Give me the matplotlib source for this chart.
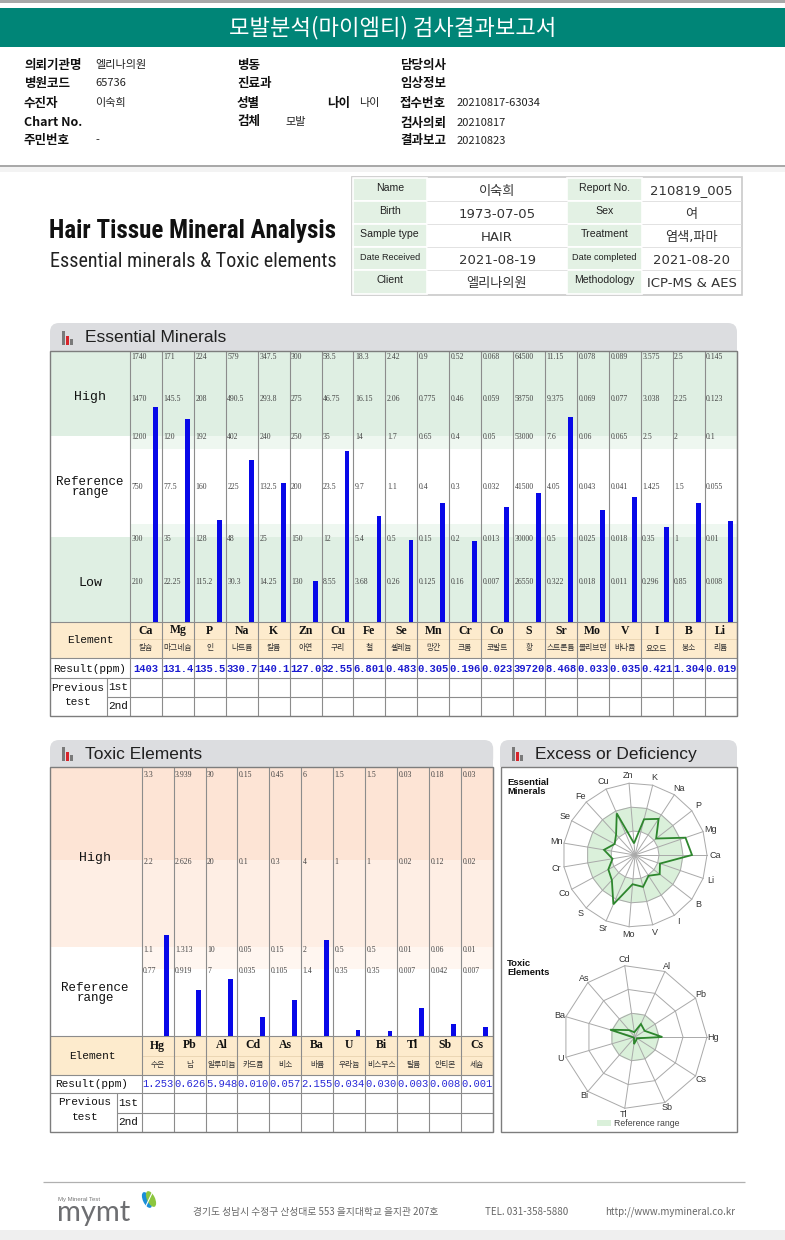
#!/usr/bin/env python3
"""Hair tissue mineral analysis report (mymt) rebuilt with matplotlib."""

import numpy as np
import matplotlib
matplotlib.use("Agg")
import matplotlib.pyplot as plt
from matplotlib import font_manager
from matplotlib.patches import Rectangle, FancyBboxPatch, Polygon, Circle, Ellipse


def has_font(name):
    try:
        font_manager.findfont(name, fallback_to_default=False)
        return True
    except Exception:
        return False


def pick_font(names):
    for n in names:
        if has_font(n):
            return n
    return None


KR = ["Noto Sans CJK KR", "DejaVu Sans"]
SANS = ["Liberation Sans", "DejaVu Sans"]
COND = pick_font(["Roboto Condensed", "Liberation Sans Narrow", "Open Sans Condensed",
                  "DejaVu Sans Condensed"])
NARROW = [COND, "DejaVu Sans"] if COND else SANS
MONO = ["Liberation Mono", "DejaVu Sans Mono"]
SERIF = ["Liberation Serif", "DejaVu Serif"]
VAL = ["DejaVu Sans", "Noto Sans CJK KR"]
plt.rcParams["font.family"] = KR

# ---------------- data ----------------
info_left = [("의뢰기관명", "엘리나의원"), ("병원코드", "65736"), ("수진자", "이숙희"),
             ("Chart No.", ""), ("주민번호", "-")]
info_mid = [("병동", ""), ("진료과", ""), ("성별", ""), ("검체", "모발")]
info_right = [("담당의사", ""), ("임상정보", ""), ("접수번호", "20210817-63034"),
              ("검사의뢰", "20210817"), ("결과보고", "20210823")]

card_labels_1 = ["Name", "Birth", "Sample type", "Date Received", "Client"]
card_values_1 = ["이숙희", "1973-07-05", "HAIR", "2021-08-19", "엘리나의원"]
card_labels_2 = ["Report No.", "Sex", "Treatment", "Date completed", "Methodology"]
card_values_2 = ["210819_005", "여", "염색,파마", "2021-08-20", "ICP-MS & AES"]

ess_syms = ["Ca", "Mg", "P", "Na", "K", "Zn", "Cu", "Fe", "Se", "Mn",
            "Cr", "Co", "S", "Sr", "Mo", "V", "I", "B", "Li"]
ess_kor = ["칼슘", "마그네슘", "인", "나트륨", "칼륨", "아연", "구리", "철", "셀레늄", "망간",
           "크롬", "코발트", "황", "스트론튬", "몰리브덴", "바나듐", "요오드", "붕소", "리튬"]
ess_results = ["1403", "131.4", "135.5", "330.7", "140.1", "127.0", "32.55", "6.801", "0.483",
               "0.305", "0.196", "0.023", "39720", "8.468", "0.033", "0.035", "0.421", "1.304",
               "0.019"]
# column scale labels, top to bottom
ess_top = ["1740", "171", "224", "579", "347.5", "300", "58.5", "18.3", "2.42", "0.9",
           "0.52", "0.068", "64500", "11.15", "0.078", "0.089", "3.575", "2.5", "0.145"]
ess_highmid = ["1470", "145.5", "208", "490.5", "293.8", "275", "46.75", "16.15", "2.06", "0.775",
               "0.46", "0.059", "58750", "9.375", "0.069", "0.077", "3.038", "2.25", "0.123"]
ess_high = ["1200", "120", "192", "402", "240", "250", "35", "14", "1.7", "0.65",
            "0.4", "0.05", "53000", "7.6", "0.06", "0.065", "2.5", "2", "0.1"]
ess_mid = ["750", "77.5", "160", "225", "132.5", "200", "23.5", "9.7", "1.1", "0.4",
           "0.3", "0.032", "41500", "4.05", "0.043", "0.041", "1.425", "1.5", "0.055"]
ess_low = ["300", "35", "128", "48", "25", "150", "12", "5.4", "0.5", "0.15",
           "0.2", "0.013", "30000", "0.5", "0.025", "0.018", "0.35", "1", "0.01"]
ess_lowmid = ["210", "22.25", "115.2", "30.3", "14.25", "130", "8.55", "3.68", "0.26", "0.125",
              "0.16", "0.007", "26550", "0.322", "0.018", "0.011", "0.296", "0.85", "0.008"]

tox_syms = ["Hg", "Pb", "Al", "Cd", "As", "Ba", "U", "Bi", "Tl", "Sb", "Cs"]
tox_kor = ["수은", "납", "알루미늄", "카드뮴", "비소", "바륨", "우라늄", "비스무스", "탈륨", "안티몬", "세슘"]
tox_results = ["1.253", "0.626", "5.948", "0.010", "0.057", "2.155", "0.034", "0.030",
               "0.003", "0.008", "0.001"]
tox_x3 = ["3.3", "3.939", "30", "0.15", "0.45", "6", "1.5", "1.5", "0.03", "0.18", "0.03"]
tox_x2 = ["2.2", "2.626", "20", "0.1", "0.3", "4", "1", "1", "0.02", "0.12", "0.02"]
tox_x1 = ["1.1", "1.313", "10", "0.05", "0.15", "2", "0.5", "0.5", "0.01", "0.06", "0.01"]
tox_x07 = ["0.77", "0.919", "7", "0.035", "0.105", "1.4", "0.35", "0.35", "0.007", "0.042", "0.007"]

footer_addr = "경기도 성남시 수정구 산성대로 553 을지대학교 을지관 207호"
footer_tel = "TEL. 031-358-5880"
footer_url = "http://www.mymineral.co.kr"

# ---------------- helpers ----------------
W, H = 785, 1240
fig = plt.figure(figsize=(W / 100, H / 100), dpi=100)
ax = fig.add_axes([0, 0, 1, 1])
ax.set_xlim(0, W)
ax.set_ylim(H, 0)
ax.axis("off")

GRID = "#8c8c8c"


def box(x0, y0, x1, y1, fc, ec="none", lw=0, z=1):
    ax.add_patch(Rectangle((x0, y0), x1 - x0, y1 - y0, facecolor=fc, edgecolor=ec,
                           linewidth=lw, zorder=z))


def hl(y, x0, x1, c=GRID, lw=0.8, z=3):
    ax.plot([x0, x1], [y, y], color=c, lw=lw, zorder=z, solid_capstyle="butt")


def vl(x, y0, y1, c=GRID, lw=0.8, z=3):
    ax.plot([x, x], [y0, y1], color=c, lw=lw, zorder=z, solid_capstyle="butt")


def put(x, y, s, size, color="#222222", ha="left", va="center", family=KR,
        weight="normal", z=5, **kw):
    ax.text(x, y, s, fontsize=size, color=color, ha=ha, va=va, family=family,
            fontweight=weight, zorder=z, **kw)


def panel_header(x0, x1, y0, y1, title):
    ax.add_patch(FancyBboxPatch((x0, y0), x1 - x0, y1 - y0,
                                boxstyle="round,pad=0,rounding_size=9",
                                facecolor="#dcdde0", edgecolor="none", zorder=1))
    box(x0, (y0 + y1) / 2, x1, y1, "#dcdde0", z=1)
    base = y1 - 6
    box(x0 + 12, base - 14, x0 + 14.5, base, "#7a7a7a", z=2)
    box(x0 + 16, base - 9, x0 + 18.5, base, "#d8252b", z=2)
    box(x0 + 20, base - 6, x0 + 22.5, base, "#7a7a7a", z=2)
    put(x0 + 35, (y0 + y1) / 2 + 1, title, 12.5, color="#202020", family=SANS)


# ---------------- top banner ----------------
box(0, 0, W, 2.5, "#a8a8a8")
box(0, 8, W, 47, "#008577")
put(W / 2, 28, "모발분석(마이엠티) 검사결과보고서", 16, color="white", ha="center")

rows_y = [65, 83.5, 103, 123, 140.5]
for (lab, val), y in zip(info_left, rows_y):
    put(24, y, lab, 9, weight="bold", color="#111111")
    put(95, y, val, 8, color="#222222")
for (lab, val), y in zip(info_mid, [65, 83.5, 103, 121.5]):
    put(237, y, lab, 9, weight="bold", color="#111111")
    put(285, y, val, 8, color="#222222")
put(327, 103, "나이", 9, weight="bold", color="#111111")
put(359, 103, "나이", 8, color="#222222")
for (lab, val), y in zip(info_right, rows_y):
    put(400, y, lab, 9, weight="bold", color="#111111")
    put(457, y, val, 8, color="#222222")

box(0, 165, W, 167, "#a9a9a9")
box(0, 167, W, 172, "#f3f3f3")

# ---------------- title block ----------------
if COND:
    put(49, 238, "Hair Tissue Mineral Analysis", 18, color="#111111",
        va="baseline", family=NARROW, weight="bold")
    put(50, 267, "Essential minerals & Toxic elements", 14.5, color="#222222",
        va="baseline", family=NARROW)
else:
    put(49, 238, "Hair Tissue Mineral Analysis", 15.6, color="#111111",
        va="baseline", family=SANS, weight="bold")
    put(50, 267, "Essential minerals & Toxic elements", 12.7, color="#222222",
        va="baseline", family=SANS)

# info card
cx0, cx1, cx2, cx3, cx4 = 352.5, 427, 567, 642, 741
cy0, rh = 178, 23.1
box(cx0 - 1, cy0 - 1, cx4 + 1, cy0 + 5 * rh + 1, "white", ec="#c9c9c9", lw=1.2, z=1)
for i in range(5):
    y0 = cy0 + i * rh
    box(cx0, y0, cx1, y0 + rh, "#e3f1e4", ec="white", lw=1.2, z=2)
    box(cx2, y0, cx3, y0 + rh, "#e3f1e4", ec="white", lw=1.2, z=2)
    if i > 0:
        hl(y0, cx1, cx2, c="#e2e2e2", lw=0.7)
        hl(y0, cx3, cx4, c="#e2e2e2", lw=0.7)
    for lab, xa, xb in [(card_labels_1[i], cx0, cx1), (card_labels_2[i], cx2, cx3)]:
        sz = 6.6 if len(lab) > 11 else 7.6
        put((xa + xb) / 2, y0 + 10, lab, sz, color="#222222", ha="center", family=SANS)
    put((cx1 + cx2) / 2, y0 + 13, card_values_1[i], 9.5, color="#333333", ha="center", family=VAL)
    put((cx3 + cx4) / 2, y0 + 13, card_values_2[i], 9.5, color="#333333", ha="center", family=VAL)

# ---------------- essential minerals ----------------
EX0, ELAB, EX1 = 50, 130, 736.5
n_e = len(ess_syms)
ecw = (EX1 - ELAB) / n_e
e_left = ELAB + np.arange(n_e) * ecw
ETOP, EBOT = 351, 621.7

panel_header(EX0, EX1 + 0.5, 323, 351, "Essential Minerals")

# bands
box(EX0, ETOP, EX1, 436, "#dfefe3")
box(ELAB, 436, EX1, 449, "#eef7f0")
box(ELAB, 524, EX1, 537, "#eef7f0")
box(EX0, 537, EX1, EBOT, "#dfefe3")
box(EX0, 436, ELAB, 537, "white")


def ess_level(i):
    knots = [0, float(ess_lowmid[i]), float(ess_low[i]), float(ess_mid[i]),
             float(ess_high[i]), float(ess_highmid[i]), float(ess_top[i])]
    return float(np.interp(float(ess_results[i]), knots, np.arange(7)))


def ess_y(level):
    if level >= 4:
        return 436 - (level - 4) * 38
    if level >= 2:
        return 530 - (level - 2) * 44
    if level >= 1:
        return 579 - (level - 1) * 42
    return EBOT - level * 42


ess_levels = [ess_level(i) for i in range(n_e)]
e_tops = np.array([ess_y(l) for l in ess_levels])
ax.bar(e_left + ecw * 0.8, EBOT - e_tops, bottom=e_tops, width=4.8,
       color="#0808e8", zorder=4, linewidth=0)

tick_rows = [(ess_top, 357), (ess_highmid, 399), (ess_high, 437),
             (ess_mid, 487), (ess_low, 539), (ess_lowmid, 582)]
for labels, y in tick_rows:
    for x, s in zip(e_left, labels):
        put(x + 1.5, y, s, 5.6, color="#444444", family=SERIF)

put(90, 397, "High", 9.5, family=MONO, ha="center", color="#111111")
put(90, 487, "Reference\nrange", 9, family=MONO, ha="center", color="#111111",
    linespacing=0.85)
put(90, 583, "Low", 9.5, family=MONO, ha="center", color="#111111")

# table
box(EX0, EBOT, EX1, 658.3, "#fdebcd")
hl(EBOT, EX0, EX1)
hl(639, ELAB, EX1, c="#e8d2b0", lw=0.6)
hl(658.3, EX0, EX1)
hl(678.3, EX0, EX1)
hl(696.7, 106.7, EX1)
vl(106.7, 678.3, 715.5)
for x in list(e_left) + [EX1]:
    vl(x, ETOP, 715.5)
for x, sym, kor, res in zip(e_left, ess_syms, ess_kor, ess_results):
    xc = x + ecw / 2
    put(xc, 630.5, sym, 8.5, ha="center", family=SERIF, weight="bold", color="#111111")
    put(xc, 648, kor, 5.6, ha="center", color="#333333")
    put(xc, 668.5, res, 7.6, ha="center", family=MONO, weight="bold", color="#1a1ad0")
put(90, 640, "Element", 8, ha="center", family=MONO, color="#111111")
put(90, 668.5, "Result(ppm)", 8, ha="center", family=MONO, color="#111111")
put(78, 688, "Previous", 8, ha="center", family=MONO, color="#111111")
put(78, 702, "test", 8, ha="center", family=MONO, color="#111111")
put(118.5, 687.5, "1st", 8, ha="center", family=MONO, color="#111111")
put(118.5, 706, "2nd", 8, ha="center", family=MONO, color="#111111")
ax.add_patch(Rectangle((EX0, ETOP), EX1 - EX0, 715.5 - ETOP, fill=False,
                       edgecolor="#7d7d7d", linewidth=1.0, zorder=6))

# ---------------- toxic elements ----------------
TX0, TLAB, TX1 = 50, 141.7, 492.7
n_t = len(tox_syms)
tcw = (TX1 - TLAB) / n_t
t_left = TLAB + np.arange(n_t) * tcw
TTOP, TBOT = 767, 1036

panel_header(TX0, TX1 + 0.5, 740, 767, "Toxic Elements")
box(TX0, TTOP, TX1, 860, "#fde4d5")
box(TX0, 860, TX1, 947, "#feeee4")
box(TLAB, 947, TX1, 969, "#fff6f0")


def tox_level(i):
    knots = [0, float(tox_x1[i]), float(tox_x2[i]), float(tox_x3[i])]
    return float(np.interp(float(tox_results[i]), knots, [0, 1, 2, 3]))


def tox_y(level):
    if level >= 1:
        return 947 - (level - 1) * 87
    return 1036.6 - level * 96.8


tox_levels = [tox_level(i) for i in range(n_t)]
t_tops = np.array([tox_y(l) for l in tox_levels])
ax.bar(t_left + tcw * 0.78, TBOT - t_tops, bottom=t_tops, width=4.8,
       color="#0808e8", zorder=4, linewidth=0)

for labels, y in [(tox_x3, 775), (tox_x2, 862), (tox_x1, 949.5), (tox_x07, 971)]:
    for x, s in zip(t_left, labels):
        put(x + 1.5, y, s, 5.6, color="#444444", family=SERIF)

put(95, 858, "High", 9.5, family=MONO, ha="center", color="#111111")
put(95, 993, "Reference\nrange", 9, family=MONO, ha="center", color="#111111",
    linespacing=0.85)

box(TX0, TBOT, TX1, 1075, "#fdebcd")
hl(TBOT, TX0, TX1)
hl(1056, TLAB, TX1, c="#e8d2b0", lw=0.6)
hl(1075, TX0, TX1)
hl(1093.3, TX0, TX1)
hl(1112.7, 116.7, TX1)
vl(116.7, 1093.3, 1132)
for x in list(t_left) + [TX1]:
    vl(x, TTOP, 1132)
for x, sym, kor, res in zip(t_left, tox_syms, tox_kor, tox_results):
    xc = x + tcw / 2
    put(xc, 1045.5, sym, 8.5, ha="center", family=SERIF, weight="bold", color="#111111")
    put(xc, 1065, kor, 5.6, ha="center", color="#333333")
    put(xc, 1084, res, 7.6, ha="center", family=MONO, color="#2a2ad8")
put(92, 1056, "Element", 8, ha="center", family=MONO, color="#111111")
put(92, 1084, "Result(ppm)", 8, ha="center", family=MONO, color="#111111")
put(85, 1102, "Previous", 8, ha="center", family=MONO, color="#111111")
put(85, 1117, "test", 8, ha="center", family=MONO, color="#111111")
put(128.5, 1103, "1st", 8, ha="center", family=MONO, color="#111111")
put(128.5, 1122, "2nd", 8, ha="center", family=MONO, color="#111111")
ax.add_patch(Rectangle((TX0, TTOP), TX1 - TX0, 1132 - TTOP, fill=False,
                       edgecolor="#7d7d7d", linewidth=1.0, zorder=6))

# ---------------- radar charts ----------------
RX0, RX1 = 501, 737
panel_header(RX0 - 1, RX1, 740, 767, "Excess or Deficiency")
ax.add_patch(Rectangle((RX0, TTOP), RX1 - RX0, 1132 - TTOP, fill=False,
                       edgecolor="#7d7d7d", linewidth=1.0, zorder=6))
RR = 72.0


def radar(cx, cy, names, levels, unit, band, label_r):
    n = len(names)
    th = np.arange(n) * 2 * np.pi / n
    r_in, r_out = band
    ax.add_patch(Circle((cx, cy), r_out, facecolor="#daf0da", edgecolor="none", zorder=2))
    if r_in > 0:
        ax.add_patch(Circle((cx, cy), r_in, facecolor="white", edgecolor="none", zorder=2))
    for rr in (RR / 3, 2 * RR / 3, RR):
        ax.add_patch(Polygon(np.c_[cx + rr * np.cos(th), cy - rr * np.sin(th)], closed=True,
                             fill=False, edgecolor="#a9a9a9", linewidth=0.7, zorder=3))
    for t in th:
        ax.plot([cx, cx + RR * np.cos(t)], [cy, cy - RR * np.sin(t)], color="#a9a9a9",
                lw=0.7, zorder=3)
    r = np.minimum(np.array(levels) * unit, RR)
    pts = np.c_[cx + r * np.cos(th), cy - r * np.sin(th)]
    ax.add_patch(Polygon(pts, closed=True, fill=False, edgecolor="#2d862d",
                         linewidth=1.3, zorder=4))
    for t, s in zip(th, names):
        put(cx + label_r * np.cos(t), cy - label_r * np.sin(t), s, 6.5, ha="center",
            family=SANS, color="#333333")


radar(635, 855, ess_syms, ess_levels, 12.0, (24, 48), 80)
radar(635, 1037, tox_syms, tox_levels, 24.0, (0, 24), 78)
put(507, 787, "Essential\nMinerals", 6.8, family=SANS, weight="bold", color="#111111",
    linespacing=1.0)
put(507, 968, "Toxic\nElements", 6.8, family=SANS, weight="bold", color="#111111",
    linespacing=1.0)
box(597, 1120, 611, 1126, "#daf0da", z=3)
put(614, 1123, "Reference range", 6.3, family=SANS, color="#444444")

# ---------------- footer ----------------
hl(1181.5, 43, 745, c="#b0b0b0", lw=0.9)
put(58, 1199, "My Mineral Test", 4.3, family=SANS, color="#777777")
put(57, 1221, "mymt", 21, family=["Lato", "DejaVu Sans"], color="#6d6e71", va="baseline")
ax.add_patch(Ellipse((147, 1200), 8, 17, angle=-25, facecolor="#1b8fd8", edgecolor="none",
                     zorder=5))
ax.add_patch(Ellipse((151, 1199), 8, 17, angle=-25, facecolor="#8cc63f", edgecolor="none",
                     zorder=5))
ax.plot([144.5, 153], [1209, 1191], color="white", lw=0.8, zorder=6)
put(193, 1212, footer_addr, 7, color="#666666")
put(485, 1212, footer_tel, 7, color="#666666", family=["Noto Sans CJK KR", "DejaVu Sans"])
put(605, 1212, footer_url, 7, color="#666666")
box(0, 1230, W, H, "#efefef")

fig.savefig("out.png", dpi=100)
